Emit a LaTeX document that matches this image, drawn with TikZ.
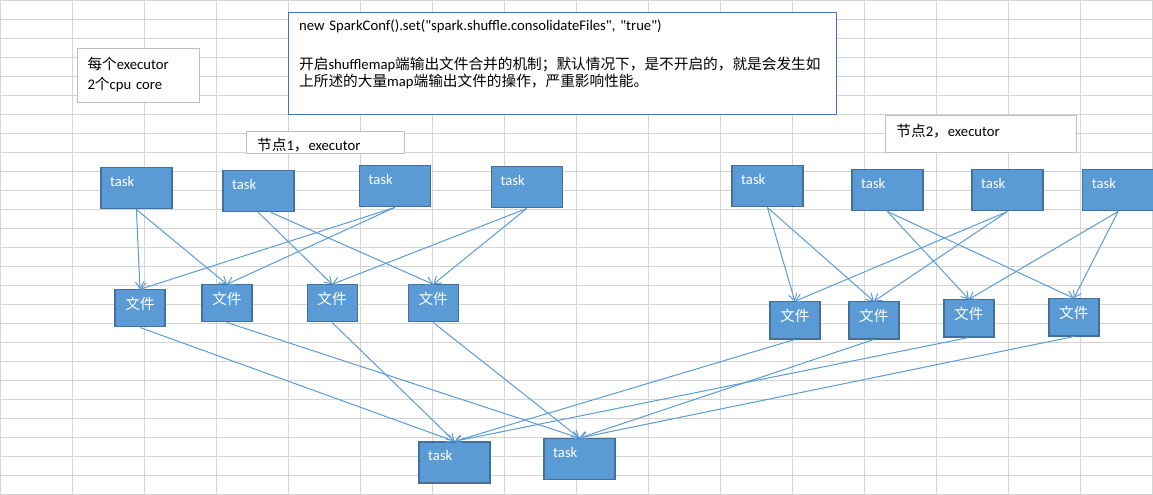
\documentclass[tikz,border=0pt]{standalone}
\usepackage{fontspec}
\usetikzlibrary{arrows.meta}
\newfontfamily\xlsfont{Carlito}
\newfontfamily\cjk{Noto Sans CJK SC}
\definecolor{gridgray}{RGB}{212,212,212}
\definecolor{boxfill}{RGB}{91,155,213}
\definecolor{boxedge}{RGB}{65,113,156}
\definecolor{wireblue}{RGB}{91,155,213}
\definecolor{notegray}{RGB}{191,191,191}
\definecolor{confblue}{RGB}{68,114,196}

\begin{document}
\begin{tikzpicture}[x=0.75pt, y=-0.75pt,
	font=\xlsfont\fontsize{11pt}{15pt}\selectfont,
	taskbox/.style={draw=boxedge, line width=0.9pt, fill=boxfill, text=white, anchor=north west,
		inner ysep=0pt, inner xsep=7pt, text width=39.25pt, text height=14.25pt, text depth=16.5pt, align=left},
	filebox/.style={draw=boxedge, line width=0.9pt, fill=boxfill, text=white, anchor=north west,
		inner sep=0pt, text width=37.5pt, text height=14.5pt, text depth=13.25pt, align=center,
		font=\cjk\fontsize{11pt}{15pt}\selectfont},
	notebox/.style={draw=notegray, line width=0.75pt, fill=white, anchor=north west, inner ysep=0pt, align=left},
	wire/.style={draw=wireblue, line width=0.75pt, -{Straight Barb[length=5pt, width=6.5pt]}}]
	\useasboundingbox (0,0) rectangle (1153,495);
	\clip (0,0) rectangle (1153,495);
	% sheet grid
	\foreach \i in {0,...,16}
		\draw [gridgray, line width=0.75pt] (72*\i+0.5, 0) -- (72*\i+0.5, 495);
	\foreach \j in {0,...,26}
		\draw [gridgray, line width=0.75pt] (0, 19*\j+0.5) -- (1153, 19*\j+0.5);

	% notes
	\node [notebox, inner xsep=7.3pt, text width=76.9pt, text height=15.2pt, text depth=25.3pt] (cores) at (77.3, 48.3)
		{{\cjk 每个}executor\\2{\cjk 个}cpu core};
	\node [notebox, draw=confblue, inner xsep=8pt, text width=395pt, text height=13.5pt, text depth=63pt,
		font=\xlsfont\fontsize{11pt}{12.5pt}\selectfont] (conf) at (288, 12)
		{new SparkConf().set("spark.shuffle.consolidateFiles", "true")\\[16.75pt]
		{\cjk 开启}shufflemap{\cjk 端输出文件合并的机制；默认情况下，是不开启的，就是会发生如}\\
		{\cjk 上所述的大量}map{\cjk 端输出文件的操作，严重影响性能。}};
	\node [notebox, inner xsep=7.8pt, text width=102.45pt, text height=14.25pt, text depth=2.25pt] (exec1) at (246.3, 131.3)
		{{\cjk 节点}1{\cjk ，}executor};
	\node [notebox, inner xsep=8pt, text width=126.8pt, text height=15.75pt, text depth=12pt] (exec2) at (885.3, 115.3)
		{{\cjk 节点}2{\cjk ，}executor};

	% map tasks
	\node [taskbox] (t1) at (100.3, 167.3) {task};
	\node [taskbox] (t2) at (222.3, 170.3) {task};
	\node [taskbox] (t3) at (358.6, 165.3) {task};
	\node [taskbox] (t4) at (490.6, 166.3) {task};
	\node [taskbox] (t5) at (731.3, 165.3) {task};
	\node [taskbox] (t6) at (851.3, 169.3) {task};
	\node [taskbox] (t7) at (971.3, 169.3) {task};
	\node [taskbox] (t8) at (1082, 169.3) {task};

	% output files
	\node [filebox] (f1) at (114.4, 289.3) {文件};
	\node [filebox] (f2) at (201.3, 284.3) {文件};
	\node [filebox] (f3) at (306.5, 284.3) {文件};
	\node [filebox] (f4) at (407.6, 284.3) {文件};
	\node [filebox] (f5) at (769.3, 301.3) {文件};
	\node [filebox] (f6) at (848.3, 301.3) {文件};
	\node [filebox] (f7) at (943.3, 299.3) {文件};
	\node [filebox] (f8) at (1048.3, 298.3) {文件};

	% reduce tasks
	\node [taskbox] (r1) at (418.3, 441.3) {task};
	\node [taskbox] (r2) at (543.3, 438) {task};

	\foreach \a/\b in {t1/f1, t1/f2, t2/f3, t3/f1, t3/f2, t4/f3, t4/f4,
			t5/f5, t5/f6, t6/f7, t6/f8, t7/f5, t7/f6, t8/f7, t8/f8,
			f1/r1, f3/r1, f5/r1, f7/r1, f2/r2, f4/r2, f6/r2, f8/r2}
		\draw [wire] (\a.south) -- (\b.north);
	\draw [wire] ([xshift=9.5pt]t2.south) -- (f4.north);
\end{tikzpicture}
\end{document}
